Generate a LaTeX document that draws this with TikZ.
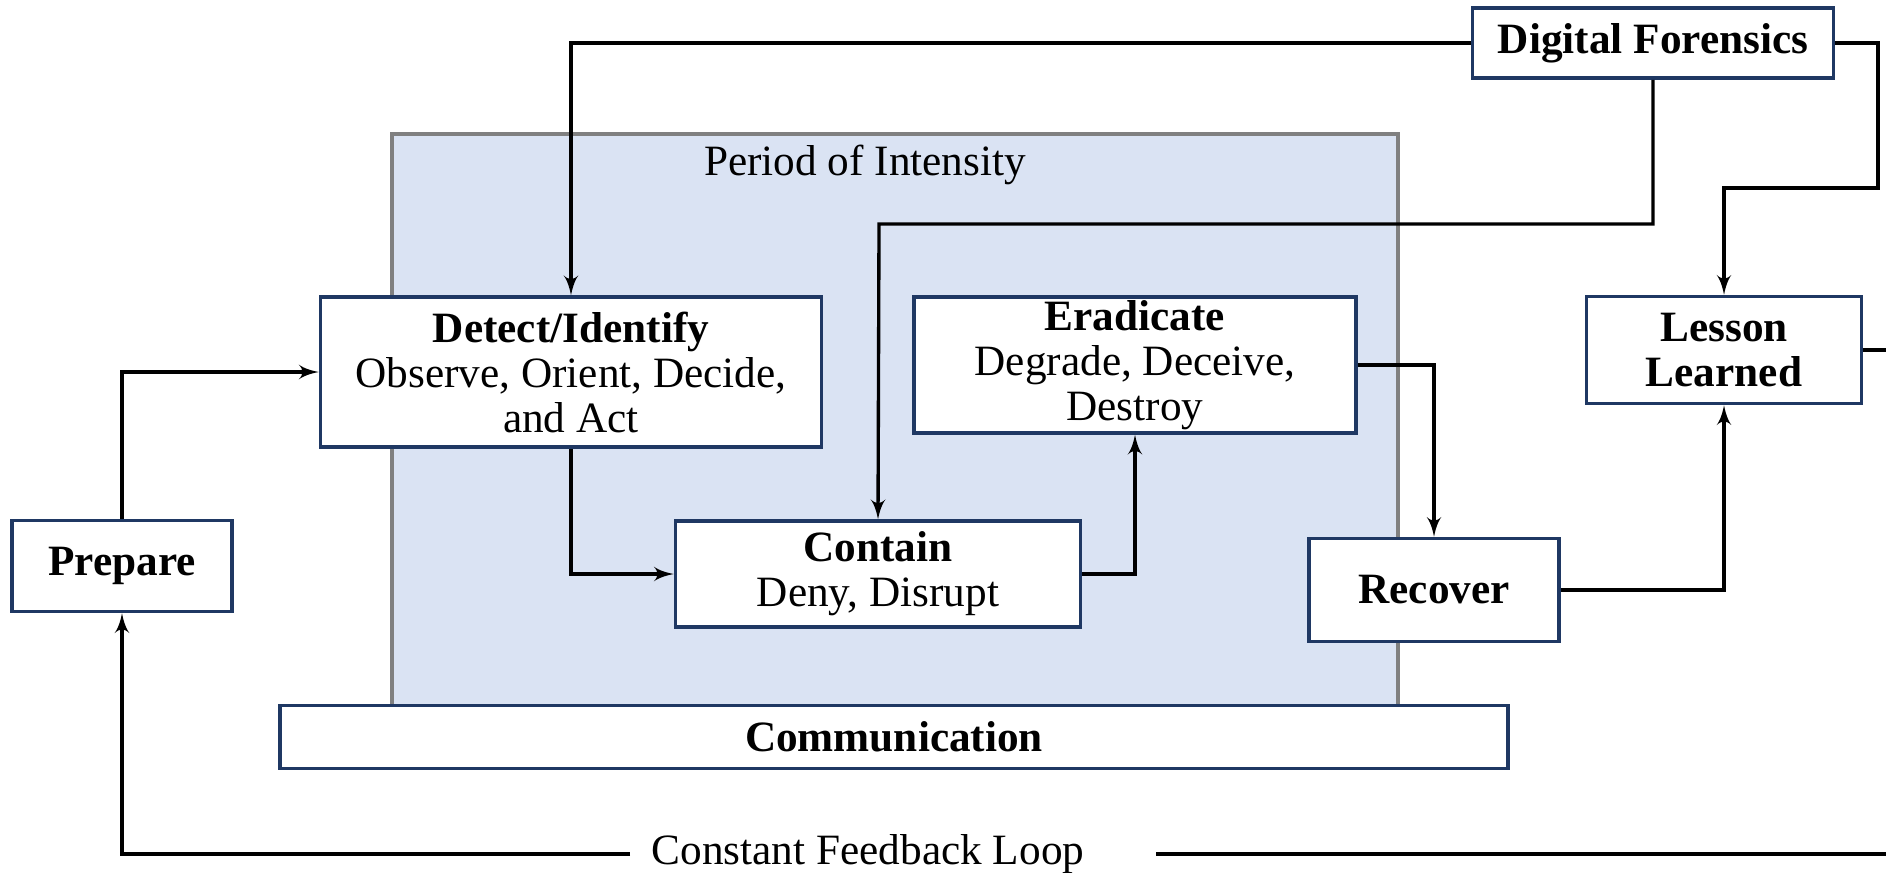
\documentclass[tikz,border=0pt]{standalone}
\usepackage{fontspec}
\setmainfont{Liberation Serif}
\usepackage{tikz}
\usetikzlibrary{arrows}
\definecolor{boxcolor}{rgb}{0.12,0.22,0.39}
\definecolor{intensecolor}{rgb}{0.855,0.89,0.953}
\definecolor{framecolor}{rgb}{0.5,0.5,0.5}

\begin{document}
\begin{tikzpicture}[->,>=latex',line width=0.95pt,x=0.01cm,y=-0.01cm]
  \tikzstyle{every node}=[font=\fontsize{12.3}{12.8}\selectfont]
  \tikzstyle{phase}=[draw=boxcolor,line width=1pt,fill=white,align=center,inner sep=0pt]

  \useasboundingbox (0,0) rectangle (1886,872);
  \clip (0,0) rectangle (1886,872);

  % period of intensity
  \draw[-,draw=framecolor,fill=intensecolor,line width=0.9pt] (392,134) rectangle (1398,706);
  \node (intensity) at (865,165) {Period of Intensity};

  \node[phase,minimum width=3.61cm,minimum height=0.70cm] (forensics) at (1653,43) {\textbf{Digital Forensics}};
  \node[phase,minimum width=2.20cm,minimum height=0.91cm] (prepare) at (122,566) {\textbf{Prepare}};
  \node[phase,minimum width=5.01cm,minimum height=1.50cm] (detect) at (571,372)
        {\textbf{Detect/Identify}\\Observe, Orient, Decide,\\and Act};
  \node[phase,minimum width=4.42cm,minimum height=1.36cm] (eradicate) at (1135,365)
        {\textbf{Eradicate}\\Degrade, Deceive,\\Destroy};
  \node[phase,minimum width=4.05cm,minimum height=1.06cm] (contain) at (878,574)
        {\textbf{Contain}\\Deny, Disrupt};
  \node[phase,minimum width=2.50cm,minimum height=1.03cm] (recover) at (1434,590) {\textbf{Recover}};
  \node[phase,minimum width=2.75cm,minimum height=1.07cm] (lesson) at (1724,350) {\textbf{Lesson}\\\textbf{Learned}};
  \node[phase,minimum width=12.27cm,minimum height=0.63cm] (communication) at (894,737) {\textbf{Communication}};
  \node[inner xsep=0.2cm] (feedback) at (868,854) {Constant Feedback Loop};

  \coordinate (fs) at (879,224);
  \coordinate (fr) at (1878,188);
  \coordinate (loop) at (1950,854);

  \draw (forensics.west) -| (detect.north);
  \draw (forensics.south) |- (fs) -- (contain.north);
  \draw (forensics.east) -| (fr) -| (lesson.north);
  \draw (prepare.north) |- (detect.west);
  \draw (detect.south) |- (contain.west);
  \draw (contain.east) -| (eradicate.south);
  \draw (eradicate.east) -| (recover.north);
  \draw (recover.east) -| (lesson.south);
  \draw[-] (lesson.east) -| (loop) -- ([xshift=0.5cm]feedback.east);
  \draw (feedback.west) -| (prepare.south);
\end{tikzpicture}
\end{document}
